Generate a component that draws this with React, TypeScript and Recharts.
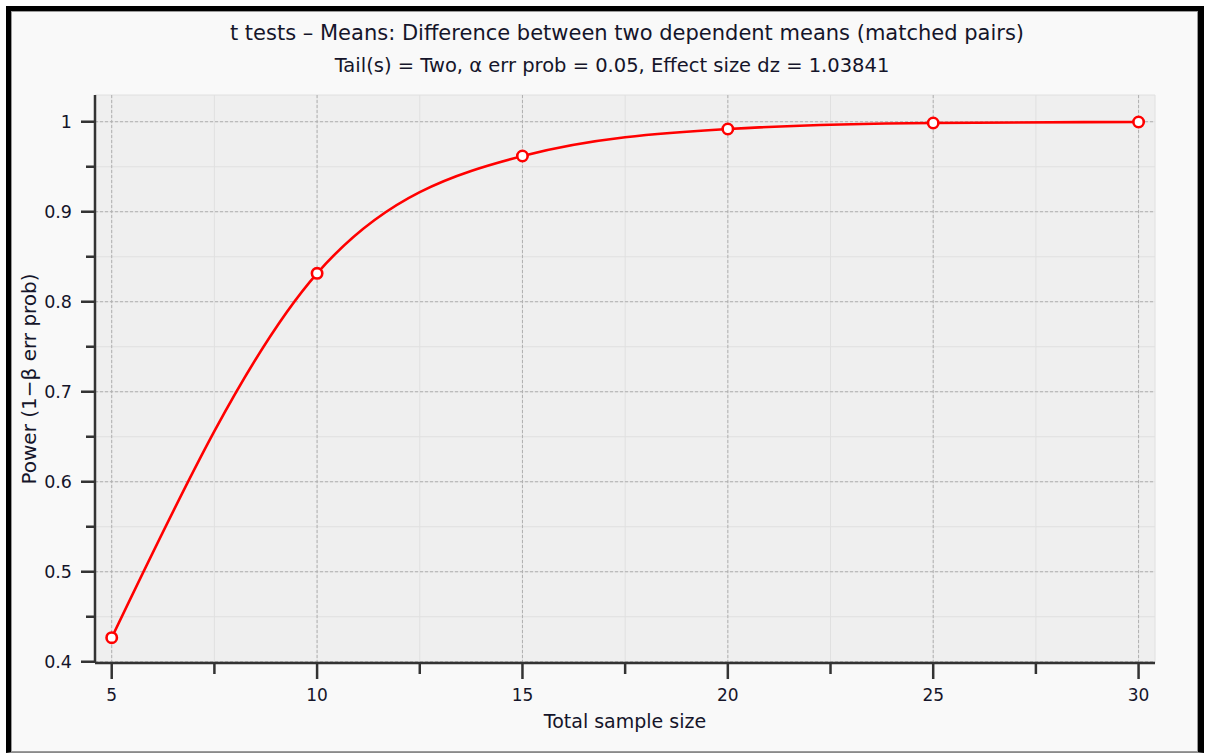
import React from "react";
import {
  LineChart,
  Line,
  XAxis,
  YAxis,
  CartesianGrid,
  ReferenceLine,
  Label,
} from "recharts";

// G*Power style power curve
const sampleSizes = [5, 10, 15, 20, 25, 30];
const powerValues = [0.4267, 0.8316, 0.9619, 0.9919, 0.9986, 0.9997];

const xMajorTicks = [5, 10, 15, 20, 25, 30];
const xMinorTicks = [7.5, 12.5, 17.5, 22.5, 27.5];
const yMajorTicks = [0.4, 0.5, 0.6, 0.7, 0.8, 0.9, 1];
const yMinorTicks = [0.45, 0.55, 0.65, 0.75, 0.85, 0.95];

const titleText =
  "t tests \u2013 Means: Difference between two dependent means (matched pairs)";
const subtitleText =
  "Tail(s) = Two, \u03b1 err prob = 0.05, Effect size dz = 1.03841";
const xLabel = "Total sample size";
const yLabel = "Power (1\u2212\u03b2 err prob)";

const FONT = "'DejaVu Sans', sans-serif";
const TEXT = "#15152a";

const data = sampleSizes.map((n, i) => ({ n, power: powerValues[i] }));

const XTick = (props: any) => {
  const { x, y, payload } = props;
  const major = payload.value % 5 === 0;
  return (
    <g>
      <line x1={x} x2={x} y1={y} y2={y + (major ? 16 : 11)} stroke="#333" strokeWidth={2.5} />
      {major && (
        <text x={x} y={y + 38} textAnchor="middle" fontSize={17} fontFamily={FONT} fill={TEXT}>
          {payload.value}
        </text>
      )}
    </g>
  );
};

const YTick = (props: any) => {
  const { x, y, payload } = props;
  const major = Math.round(payload.value * 100) % 10 === 0;
  return (
    <g>
      <line x1={x} x2={x - (major ? 14 : 9)} y1={y} y2={y} stroke="#333" strokeWidth={2.5} />
      {major && (
        <text x={x - 23} y={y + 6} textAnchor="end" fontSize={17.5} fontFamily={FONT} fill={TEXT}>
          {payload.value}
        </text>
      )}
    </g>
  );
};

export default function App() {
  return (
    <div
      style={{
        position: "absolute",
        left: 0,
        top: 0,
        width: 1209,
        height: 754,
        background: "#ffffff",
      }}
    >
      {/* frame */}
      <div
        style={{
          position: "absolute",
          left: 6,
          top: 6,
          width: 1187,
          height: 741,
          background: "#f9f9f9",
          borderTop: "5px solid #000",
          borderLeft: "5px solid #000",
          borderRight: "6px solid #000",
          borderBottom: "1px solid #8a8a8a",
          boxShadow: "inset 0 0 0 1px #9a9a9a",
        }}
      />

      {/* titles */}
      <div
        style={{
          position: "absolute",
          left: 0,
          width: 1254,
          top: 21,
          textAlign: "center",
          fontFamily: FONT,
          fontSize: 21,
          color: TEXT,
          whiteSpace: "nowrap",
        }}
      >
        {titleText}
      </div>
      <div
        style={{
          position: "absolute",
          left: 0,
          width: 1224,
          top: 54,
          textAlign: "center",
          fontFamily: FONT,
          fontSize: 19.5,
          color: TEXT,
          whiteSpace: "nowrap",
        }}
      >
        {subtitleText}
      </div>

      <div style={{ position: "absolute", left: 0, top: 0 }}>
        <LineChart
          width={1209}
          height={754}
          data={data}
          margin={{ top: 95, right: 54, left: 15, bottom: 21 }}
        >
          <CartesianGrid fill="#efefef" stroke="#e0e0e0" strokeWidth={1} />
          {xMajorTicks.map((v) => (
            <ReferenceLine key={`vx${v}`} x={v} stroke="#b0b0b0" strokeDasharray="3 2" />
          ))}
          {yMajorTicks.map((v) => (
            <ReferenceLine key={`hy${v}`} y={v} stroke="#b0b0b0" strokeDasharray="3 2" />
          ))}
          <XAxis
            dataKey="n"
            type="number"
            domain={[4.593, 30.4]}
            allowDataOverflow
            ticks={[...xMajorTicks, ...xMinorTicks].sort((a, b) => a - b)}
            interval={0}
            height={70}
            tickSize={0}
            tickMargin={0}
            tickLine={false}
            tick={<XTick />}
            axisLine={{ stroke: "#333", strokeWidth: 2.5 }}
          >
            <Label
              value={xLabel}
              position="insideBottom"
              offset={5}
              style={{ fontFamily: FONT, fontSize: 19, fill: TEXT }}
            />
          </XAxis>
          <YAxis
            type="number"
            domain={[0.3986, 1.0297]}
            allowDataOverflow
            ticks={[...yMajorTicks, ...yMinorTicks].sort((a, b) => a - b)}
            interval={0}
            width={80}
            tickSize={0}
            tickMargin={0}
            tickLine={false}
            tick={<YTick />}
            axisLine={{ stroke: "#333", strokeWidth: 2.5 }}
          >
            <Label
              value={yLabel}
              angle={-90}
              position="insideLeft"
              offset={14}
              style={{ fontFamily: FONT, fontSize: 20, fill: TEXT, textAnchor: "middle" }}
            />
          </YAxis>
          <Line
            type="monotone"
            dataKey="power"
            stroke="#ff0000"
            strokeWidth={2.6}
            dot={{ r: 5.2, fill: "#ffffff", stroke: "#ff0000", strokeWidth: 2.6 }}
            activeDot={false}
            isAnimationActive={false}
          />
        </LineChart>
      </div>
    </div>
  );
}
